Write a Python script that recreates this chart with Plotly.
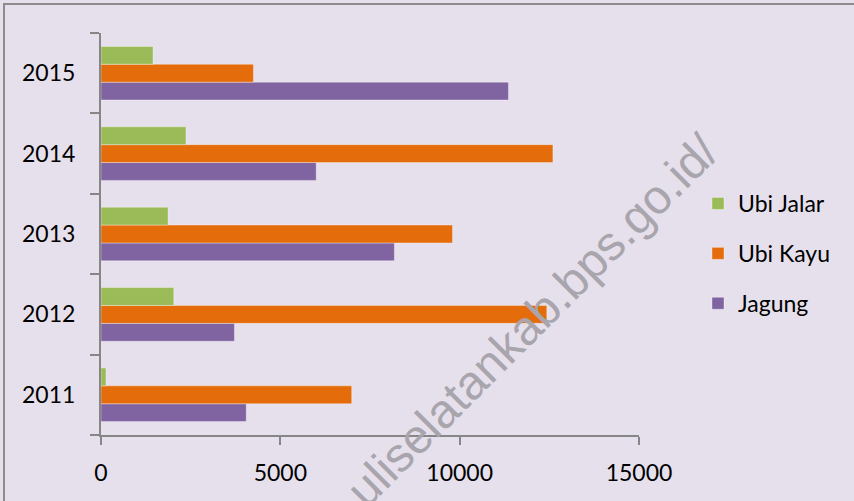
import plotly.graph_objects as go

years = ["2011", "2012", "2013", "2014", "2015"]
jagung = [4050, 3720, 8180, 6000, 11360]
ubi_kayu = [6990, 12430, 9800, 12600, 4250]
ubi_jalar = [140, 2030, 1870, 2370, 1450]
x_ticks = [0, 5000, 10000, 15000]
x_tick_labels = ["0", "5000", "10000", "15000"]
watermark = "uliselatankab.bps.go.id/"

series = [
    ("Jagung", jagung, "#8064A2", 3),
    ("Ubi Kayu", ubi_kayu, "#E46C0A", 2),
    ("Ubi Jalar", ubi_jalar, "#9BBB59", 1),
]

FONT = "Lato, 'Open Sans', sans-serif"
BG = "#E6E0EC"
AXIS = "#868686"

fig = go.Figure()
for name, vals, col, rank in series:
    fig.add_trace(go.Bar(
        y=years, x=vals, name=name, orientation="h",
        marker=dict(color=col, line=dict(color="rgba(255,255,255,0.35)", width=1)),
        legendgroup=name, legendrank=rank,
    ))

W, H = 854, 501
L, R, T, B = 101, 215, 33, 66
pw = W - L - R
ph = H - T - B

def px(xp):
    return (xp - L) / pw

def py(yp):
    return (H - B - yp) / ph

fig.update_layout(
    width=W, height=H,
    margin=dict(l=L, r=R, t=T, b=B, pad=0, autoexpand=False),
    paper_bgcolor=BG, plot_bgcolor=BG,
    barmode="group", bargap=0.333, bargroupgap=0,
    font=dict(family=FONT, size=23, color="#000000"),
    showlegend=True,
    legend=dict(
        x=px(698), y=py(182), xanchor="left", yanchor="top",
        traceorder="grouped", tracegroupgap=17,
        bgcolor="rgba(0,0,0,0)", font=dict(family=FONT, size=23, color="#000000"),
        itemwidth=30,
    ),
    xaxis=dict(
        range=[0, 15000], tickvals=x_ticks, ticktext=x_tick_labels,
        showgrid=False, zeroline=False,
        showline=True, linecolor=AXIS, linewidth=2,
        ticks="outside", ticklen=8, tickwidth=2, tickcolor=AXIS,
        ticklabelstandoff=8, automargin=False,
        tickfont=dict(family=FONT, size=23, color="#000000"),
    ),
    yaxis=dict(
        type="category", categoryorder="array", categoryarray=years,
        showgrid=False, zeroline=False,
        showline=True, linecolor=AXIS, linewidth=2,
        ticks="outside", ticklen=9, tickwidth=2, tickcolor=AXIS,
        tickson="boundaries", ticklabelstandoff=19, automargin=False,
        tickfont=dict(family=FONT, size=23, color="#000000"),
    ),
)

# outer chart border (top and left visible)
fig.add_shape(type="rect", xref="paper", yref="paper",
              x0=px(4), x1=px(W + 20), y0=py(H + 20), y1=py(4),
              line=dict(color="#8C8C8C", width=2), fillcolor="rgba(0,0,0,0)", layer="below")

# diagonal watermark
fig.add_annotation(
    text=watermark, xref="paper", yref="paper",
    x=px(532), y=py(320), xanchor="center", yanchor="middle",
    textangle=-45, showarrow=False,
    font=dict(family="'Liberation Sans', Arial, sans-serif", size=48, color="#A9A5AD"),
)

fig.write_html("out.html", config={"displayModeBar": False},
               post_script="document.body.style.margin='0';document.body.style.overflow='hidden';")
